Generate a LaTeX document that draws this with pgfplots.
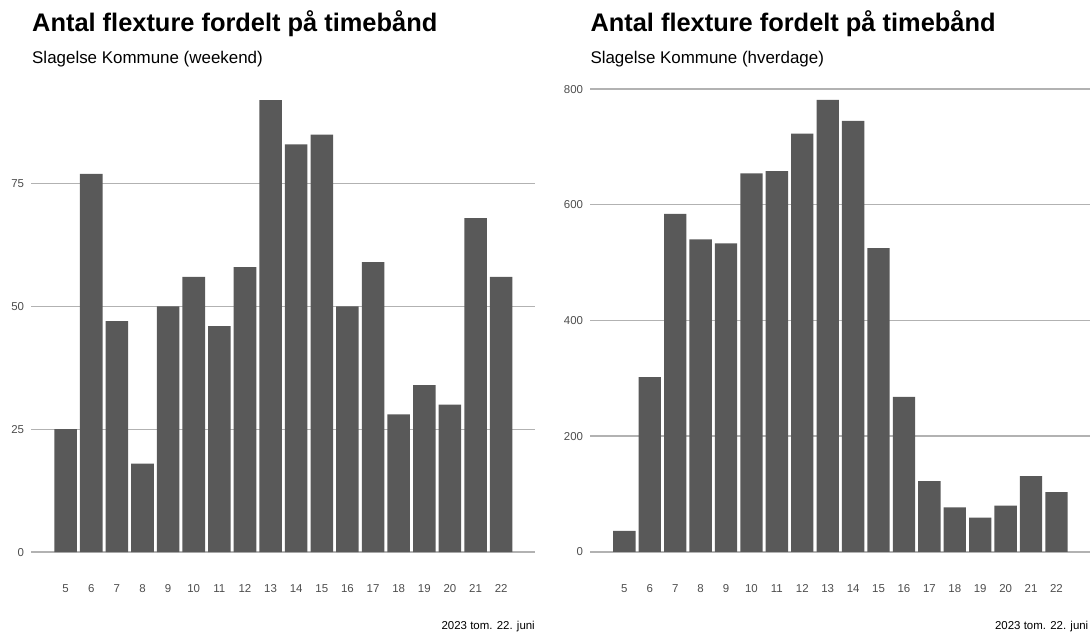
\documentclass[border=0pt]{standalone}
\usepackage{fontspec}
\setmainfont{Liberation Sans}
\usepackage{pgfplots}
\pgfplotsset{compat=1.18}

\definecolor{barfill}{HTML}{595959}
\definecolor{gridc}{HTML}{B2B2B2}
\definecolor{tickc}{HTML}{4D4D4D}

% weekend / hverdage counts per hour band
\pgfplotstableread{
h  n
5  25
6  77
7  47
8  18
9  50
10 56
11 46
12 58
13 92
14 83
15 85
16 50
17 59
18 28
19 34
20 30
21 68
22 56
}\weekend
\pgfplotstableread{
h  n
5  36
6  302
7  584
8  540
9  533
10 654
11 658
12 723
13 781
14 745
15 525
16 268
17 122
18 77
19 59
20 80
21 131
22 103
}\hverdage

\pgfplotsset{
  panel/.style={
    scale only axis,
    anchor=south west,
    width=#1,
    height=497bp,
    xmin=3.66, xmax=23.32,
    xtick={5,...,22},
    axis line style={draw=none},
    tick style={draw=none},
    major tick length=0pt,
    ymajorgrids,
    grid style={gridc, line width=1.4bp},
    /pgf/number format/assume math mode=true,
    ticklabel style={font=\fontsize{11.5}{13}\selectfont, text=tickc, inner sep=0pt},
    yticklabel style={anchor=base east, xshift=-7bp, yshift=-4.1bp},
    xticklabel style={anchor=base, yshift=-17.7bp},
    ybar, bar width=0.88,
  },
}

\begin{document}
\begin{tikzpicture}
\path[use as bounding box] (0,0) rectangle (1090bp,632bp);

\begin{axis}[panel=503.7bp, at={(31.3bp,57.4bp)},
  ymin=-4.6, ymax=96.6, ytick={0,25,50,75}]
  \addplot[fill=barfill, draw=none] table[x=h, y=n] {\weekend};
\end{axis}

\begin{axis}[panel=499.7bp, at={(590.3bp,57.6bp)},
  ymin=-39.05, ymax=820.05, ytick={0,200,400,600,800}]
  \addplot[fill=barfill, draw=none] table[x=h, y=n] {\hverdage};
\end{axis}

\node[anchor=base west, inner sep=0pt, font=\bfseries\fontsize{25.5}{30}\selectfont] at (32bp,600.3bp) {Antal flexture fordelt på timebånd};
\node[anchor=base west, inner sep=0pt, font=\fontsize{17}{20}\selectfont] at (32bp,568.5bp) {Slagelse Kommune (weekend)};
\node[anchor=base east, inner sep=0pt, font=\fontsize{11.5}{13}\selectfont] at (535bp,2.5bp) {2023 tom. 22. juni};

\node[anchor=base west, inner sep=0pt, font=\bfseries\fontsize{25.5}{30}\selectfont] at (590.3bp,600.3bp) {Antal flexture fordelt på timebånd};
\node[anchor=base west, inner sep=0pt, font=\fontsize{17}{20}\selectfont] at (590.3bp,568.5bp) {Slagelse Kommune (hverdage)};
\node[anchor=base east, inner sep=0pt, font=\fontsize{11.5}{13}\selectfont] at (1088.5bp,2.5bp) {2023 tom. 22. juni};
\end{tikzpicture}
\end{document}
